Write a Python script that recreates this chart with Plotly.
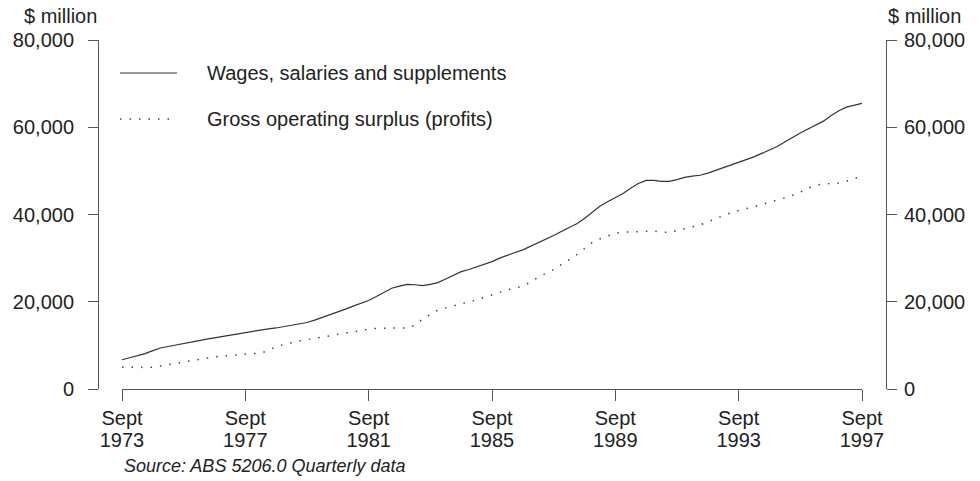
import pandas as pd
import plotly.graph_objects as go

# quarterly, Sept 1973 .. Sept 1997 ($ million)
quarters = pd.date_range("1973-09-01", "1997-09-01", freq="QS-SEP")

wages = [
    6700, 7150, 7600, 8100, 8800, 9400, 9750, 10050, 10400, 10750,
    11100, 11450, 11750, 12100, 12450, 12750, 13050, 13350, 13550, 13800,
    13990, 14300, 14650, 14950, 15250, 15800, 16400, 17000, 17600, 18300,
    19000, 19700, 20300, 21200, 22200, 23100, 23600, 24000, 23900, 23700,
    24000, 24400, 25200, 26100, 26900, 27400, 28000, 28500, 29200, 30000,
    30700, 31300, 31900, 32700, 33500, 34300, 35200, 36100, 37000, 37900,
    39100, 40600, 41900, 42900, 43800, 44800, 46000, 47100, 47800, 47800,
    47600, 47600, 48000, 48500, 48800, 49000, 49500, 50100, 50700, 51300,
    51900, 52500, 53200, 54000, 54800, 55600, 56600, 57700, 58700, 59600,
    60500, 61400, 62700, 63800, 64600, 65000, 65500,
]

profits = [
    5000, 4950, 4950, 4950, 5000, 5300, 5650, 5950, 6250, 6550,
    6850, 7150, 7350, 7550, 7700, 7850, 7950, 8050, 8250, 8800,
    9700, 10200, 10650, 11000, 11300, 11600, 11900, 12200, 12450, 12800,
    13200, 13500, 13700, 13900, 13950, 13950, 14000, 14000, 14600, 16000,
    17100, 18100, 18600, 19000, 19500, 20000, 20400, 21000, 21600, 22200,
    22700, 23100, 23600, 24500, 25600, 26500, 27400, 28500, 29600, 30800,
    32200, 33600, 34400, 35000, 35700, 35950, 36000, 36100, 36200, 36200,
    36000, 35900, 36300, 36700, 37200, 37600, 38300, 39100, 39700, 40400,
    40900, 41300, 41800, 42300, 42800, 43200, 43800, 44400, 45100, 46000,
    46700, 47000, 47100, 47200, 47600, 48300, 48600,
]

tick_dates = ["1973-09-01", "1977-09-01", "1981-09-01", "1985-09-01",
              "1989-09-01", "1993-09-01", "1997-09-01"]
tick_years = ["1973", "1977", "1981", "1985", "1989", "1993", "1997"]
y_ticks = [0, 20000, 40000, 60000, 80000]

FONT = "Liberation Sans, Arial, sans-serif"
AX = "#555555"

fig = go.Figure()
fig.add_trace(go.Scatter(x=quarters, y=wages, mode="lines",
                         line=dict(color="#333333", width=1.2),
                         name="Wages, salaries and supplements"))
# same ranges on x2/y2, so this just carries the year row and right axis
fig.add_trace(go.Scatter(x=quarters, y=profits, mode="lines", xaxis="x2", yaxis="y2",
                         line=dict(color="#444444", width=1.5, dash="1.5px,8px"),
                         name="Gross operating surplus (profits)"))

W, H = 980, 481
L, R, T, B = 98, 94, 40, 92
pw, ph = W - L - R, H - T - B

def px_x(x):
    return (x - L) / pw

def px_y(y):
    return (H - B - y) / ph

yax = dict(range=[0, 80000], tickvals=y_ticks, tickformat=",", showgrid=False,
           zeroline=False, showline=True, linecolor=AX, linewidth=1,
           ticks="outside", ticklen=10, tickcolor=AX, anchor="free",
           tickfont=dict(size=20, color="#222222"))

xdom = [px_x(122), px_x(862)]
xrng = ["1973-09-01", "1997-09-01"]

fig.update_layout(
    width=W, height=H,
    margin=dict(l=L, r=R, t=T, b=B),
    paper_bgcolor="white", plot_bgcolor="white",
    font=dict(family=FONT, size=20, color="#222222"),
    showlegend=False,
    xaxis=dict(domain=xdom, type="date", range=xrng,
               tickvals=tick_dates, ticktext=["Sept"] * len(tick_dates),
               showgrid=False, zeroline=False, showline=True,
               linecolor=AX, linewidth=1, ticks="outside", ticklen=11,
               tickcolor=AX, tickfont=dict(size=20, color="#222222")),
    # year row under the "Sept" labels
    xaxis2=dict(domain=xdom, type="date", range=xrng, overlaying="x",
                anchor="y", side="bottom", tickvals=tick_dates, ticktext=tick_years,
                showgrid=False, zeroline=False, showline=False, ticks="",
                ticklabelstandoff=37, tickfont=dict(size=20, color="#222222")),
    yaxis=dict(yax, position=0, side="left", ticklabelstandoff=10),
    yaxis2=dict(yax, position=1, side="right", overlaying="y", ticklabelstandoff=3),
)

# legend keys and texts
fig.add_shape(type="line", xref="paper", yref="paper",
              x0=px_x(120), x1=px_x(177), y0=px_y(73), y1=px_y(73),
              line=dict(color="#333333", width=1.2))
fig.add_shape(type="line", xref="paper", yref="paper",
              x0=px_x(120), x1=px_x(177), y0=px_y(119), y1=px_y(119),
              line=dict(color="#444444", width=1.5, dash="1.5px,8px"))
fig.add_annotation(text="Wages, salaries and supplements", xref="paper", yref="paper",
                   x=px_x(205), y=px_y(73), xanchor="left", yanchor="middle",
                   showarrow=False, font=dict(size=20))
fig.add_annotation(text="Gross operating surplus (profits)", xref="paper", yref="paper",
                   x=px_x(205), y=px_y(119), xanchor="left", yanchor="middle",
                   showarrow=False, font=dict(size=20))

# unit labels
fig.add_annotation(text="$ million", xref="paper", yref="paper",
                   x=px_x(60), y=px_y(16), xanchor="center", yanchor="middle",
                   showarrow=False, font=dict(size=20))
fig.add_annotation(text="$ million", xref="paper", yref="paper",
                   x=px_x(925), y=px_y(16), xanchor="center", yanchor="middle",
                   showarrow=False, font=dict(size=20))

fig.add_annotation(text="<i>Source: ABS 5206.0 Quarterly data</i>", xref="paper", yref="paper",
                   x=px_x(122), y=px_y(466), xanchor="left", yanchor="middle",
                   showarrow=False, font=dict(size=18))

fig.write_html("out.html", config={"displayModeBar": False},
               post_script="document.body.style.margin='0';document.body.style.overflow='hidden';")
